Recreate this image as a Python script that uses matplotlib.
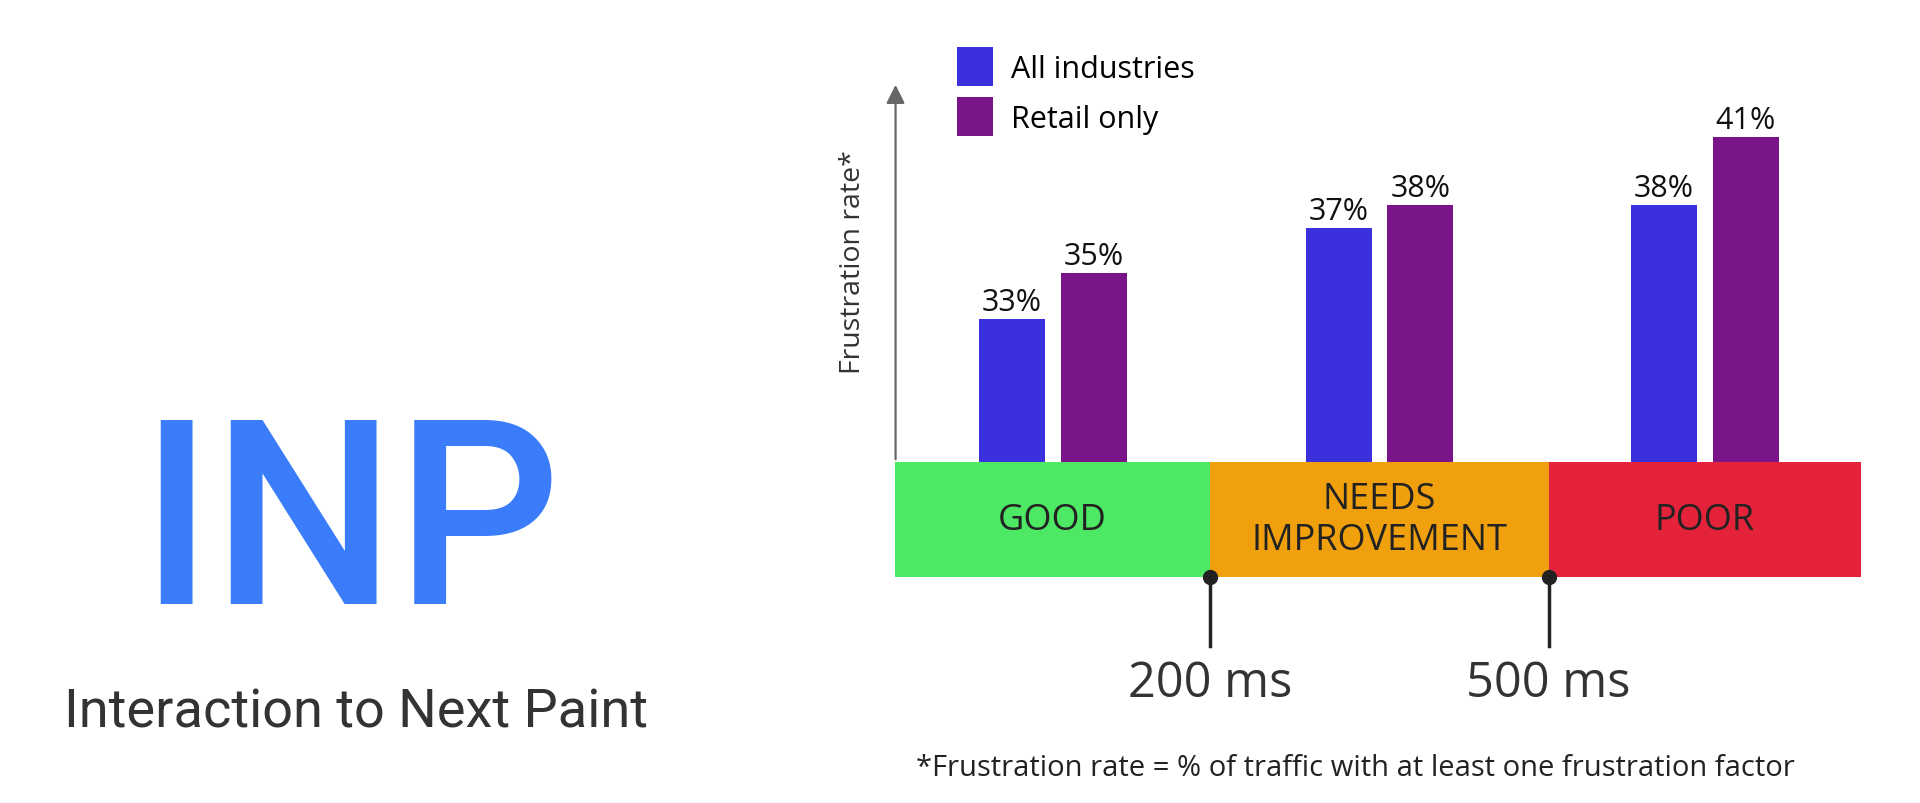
import matplotlib.pyplot as plt
from matplotlib.patches import Rectangle

plt.rcParams['font.family'] = ['Open Sans', 'DejaVu Sans']

# data
groups = ['GOOD', 'NEEDS\nIMPROVEMENT', 'POOR']
all_industries = [33, 37, 38]
retail_only = [35, 38, 41]
series_names = ['All industries', 'Retail only']
thresholds = ['200 ms', '500 ms']
footnote = '*Frustration rate = % of traffic with at least one frustration factor'

band_edges = [0, 0.98, 2.03, 3.0]
band_colors = ['#4de864', '#f0a00c', '#e4223a']
bar_colors = ['#3a30dc', '#7a1589']

fig = plt.figure(figsize=(19.2, 8.04), dpi=100)

# bars
ax = fig.add_axes([0.4661, 0.4241, 0.5031, 0.4726])
centers = [(band_edges[i] + band_edges[i + 1]) / 2 for i in range(3)]
w = 0.205
off = 0.127
b1 = ax.bar([c - off for c in centers], all_industries, w, bottom=0,
            color=bar_colors[0], label=series_names[0])
b2 = ax.bar([c + off for c in centers], retail_only, w, bottom=0,
            color=bar_colors[1], label=series_names[1])
for bars, vals in [(b1, all_industries), (b2, retail_only)]:
    for r, v in zip(bars, vals):
        ax.annotate('%d%%' % v, (r.get_x() + r.get_width() / 2, v),
                    xytext=(0, 1.5), textcoords='offset points',
                    ha='center', va='bottom', fontsize=22, color='#111')
ax.set_xlim(0, 3)
ax.set_ylim(26.7, 43.4)
for s in ax.spines.values():
    s.set_visible(False)
ax.set_xticks([])
ax.set_yticks([])
ax.annotate('', xy=(0.002, 43.4), xytext=(0.002, 26.7),
            arrowprops=dict(arrowstyle='-|>', color='#666', lw=1.6,
                            mutation_scale=28), annotation_clip=False)
ax.set_ylabel('Frustration rate*', fontsize=20.5, color='#333')
ax.yaxis.set_label_coords(-0.029, 0.53)

fig.legend(handles=[b1, b2], loc='upper left',
           bbox_to_anchor=(957 / 1920, 1 - 48 / 804), frameon=False, fontsize=22,
           handlelength=1.18, handleheight=1.6, handletextpad=0.6,
           labelspacing=0.35, borderpad=0, borderaxespad=0)

# band
ax2 = fig.add_axes([0.4661, 0.2811, 0.5031, 0.143])
ax2.set_xlim(0, 3)
ax2.set_ylim(0, 1)
ax2.axis('off')
for i in range(3):
    ax2.add_patch(Rectangle((band_edges[i], 0), band_edges[i + 1] - band_edges[i], 1,
                            color=band_colors[i], lw=0))
    ax2.text(centers[i], 0.5, groups[i], ha='center', va='center',
             fontsize=26, color='#222', linespacing=1.2)
for x, lab in zip(band_edges[1:3], thresholds):
    ax2.plot([x, x], [0, -0.6], color='#222', lw=2.5, clip_on=False)
    ax2.plot([x], [0], 'o', color='#222', ms=10, clip_on=False)
    ax2.text(x, -0.92, lab, ha='center', va='center', fontsize=35,
             color='#333', clip_on=False)

fig.text(916 / 1920, 1 - 769 / 804, footnote, ha='left', va='center',
         fontsize=21, color='#222')

# left title
fig.text(350 / 1920, 1 - 533 / 804, 'INP', ha='center', va='center',
         fontsize=186, color='#3a7cf9', fontweight='medium',
         family=['Roboto', 'DejaVu Sans'])
fig.text(356 / 1920, 1 - 713 / 804, 'Interaction to Next Paint', ha='center',
         va='center', fontsize=39, color='#333', family=['Roboto', 'DejaVu Sans'])

fig.savefig('out.png', dpi=100)
